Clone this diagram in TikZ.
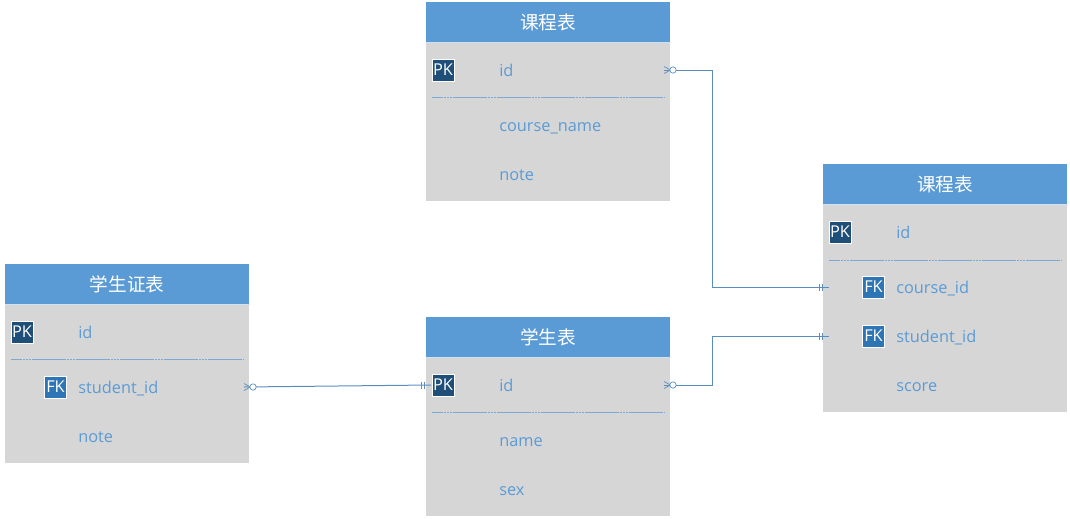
\documentclass[tikz,border=0pt]{standalone}
\usepackage{fontspec}
\setmainfont{Open Sans}
\newfontfamily\cjk{Noto Sans CJK SC}
\definecolor{hdr}{HTML}{5B9BD5}
\definecolor{bodyc}{HTML}{D6D6D6}
\definecolor{txtc}{HTML}{5B9BD5}
\definecolor{sepc}{HTML}{7FA9D2}
\definecolor{pkc}{HTML}{1F4E79}
\definecolor{fkc}{HTML}{2E75B6}
\definecolor{linec}{HTML}{5A8DBE}
\definecolor{palec}{HTML}{CFE2F3}
\tikzset{
  hdrbox/.style={fill=hdr,draw=none,minimum width=183pt,minimum height=30pt,inner sep=0pt,anchor=north west,text=white,font=\cjk\fontsize{14}{14}\selectfont},
  rowtext/.style={anchor=base west,inner sep=0pt,text=txtc,font=\fontsize{12.25}{12}\selectfont},
  badge/.style={draw=white,line width=0.7pt,minimum width=16.5pt,minimum height=16.5pt,inner sep=0pt,text=white,font=\fontsize{12.25}{12}\selectfont},
  pkbadge/.style={badge,fill=pkc},
  fkbadge/.style={badge,fill=fkc},
  sepline/.style={draw=sepc,line width=0.75pt,dash pattern=on 2pt off 0.2pt},
  hdrline/.style={draw=palec,line width=0.75pt},
  conn/.style={draw=linec,line width=0.75pt},
  endmark/.style={draw=linec,line width=0.5pt},
  circ/.style={circle,draw=linec,fill=white,line width=0.5pt,minimum size=4.8pt,inner sep=0pt}
}
\begin{document}
\begin{tikzpicture}[x=0.75pt,y=-0.75pt]
\useasboundingbox (0,0) rectangle (1070,518);
% table: course (top)
\fill[bodyc] (426,42) rectangle (670,201);
\node[hdrbox] (a) at (426,2) {课程表};
\draw[hdrline] (a.south west) -- (a.south east);
\node[pkbadge] (apk) at (443,70) {PK};
\node[rowtext] (aid) at (499,76) {id};
\node[rowtext] (aname) at (499,131) {course\_name};
\node[rowtext] (anote) at (499,180) {note};
\coordinate (asl) at (432,97.5); \coordinate (asr) at (664,97.5);
\draw[sepline] (asl) -- (asr);
% table: right
\fill[bodyc] (823,204) rectangle (1067,412);
\node[hdrbox] (b) at (823,164) {课程表};
\draw[hdrline] (b.south west) -- (b.south east);
\node[pkbadge] (bpk) at (840,232) {PK};
\node[rowtext] (bid) at (896,238) {id};
\node[fkbadge] (bfk1) at (873.5,287) {FK};
\node[rowtext] (bcid) at (896,293) {course\_id};
\node[fkbadge] (bfk2) at (873.5,336) {FK};
\node[rowtext] (bsid) at (896,342) {student\_id};
\node[rowtext] (bscore) at (896,391) {score};
\coordinate (bsl) at (829,260.5); \coordinate (bsr) at (1061,260.5);
\draw[sepline] (bsl) -- (bsr);
% table: left
\fill[bodyc] (5,304) rectangle (249,463);
\node[hdrbox] (c) at (5,264) {学生证表};
\draw[hdrline] (c.south west) -- (c.south east);
\node[pkbadge] (cpk) at (22,332) {PK};
\node[rowtext] (cid) at (78,338) {id};
\node[fkbadge] (cfk) at (55.5,387) {FK};
\node[rowtext] (csid) at (78,393) {student\_id};
\node[rowtext] (cnote) at (78,442) {note};
\coordinate (csl) at (11,359.5); \coordinate (csr) at (243,359.5);
\draw[sepline] (csl) -- (csr);
% table: middle
\fill[bodyc] (426,357) rectangle (670,516);
\node[hdrbox] (d) at (426,317) {学生表};
\draw[hdrline] (d.south west) -- (d.south east);
\node[pkbadge] (dpk) at (443,385) {PK};
\node[rowtext] (did) at (499,391) {id};
\node[rowtext] (dname) at (499,446) {name};
\node[rowtext] (dsex) at (499,495) {sex};
\coordinate (dsl) at (432,412.5); \coordinate (dsr) at (664,412.5);
\draw[sepline] (dsl) -- (dsr);
% connector ends
\coordinate (p1) at (664,70);  \coordinate (q1) at (829,287);
\coordinate (p2) at (664,385); \coordinate (q2) at (829,336);
\coordinate (p3) at (244,387); \coordinate (q3) at (431,385);
% connectors
\draw[conn] (p1) -- ++(48,0) |- (q1);
\draw[conn] (p2) -- ++(48,0) |- (q2);
\draw[conn] (p3) -- (q3);
% crow's foot + circle ends
\foreach \e in {p1,p2,p3}{
  \draw[endmark] (\e) ++(0,-3.5) -- ++(6.5,3.5) -- ++(-6.5,3.5);
  \path (\e) ++(9,0) node[circ] {};
}
% double bar ends
\foreach \e in {q1,q2,q3}{
  \draw[endmark] (\e) ++(-10,-3.5) -- ++(0,7);
  \draw[endmark] (\e) ++(-7,-3.5) -- ++(0,7);
}
\end{tikzpicture}
\end{document}
